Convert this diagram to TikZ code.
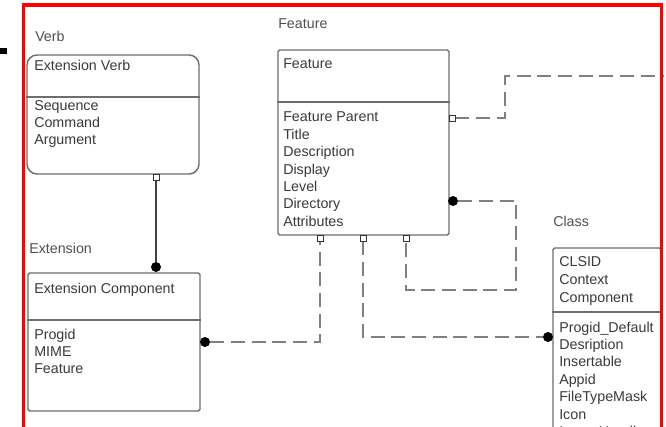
\documentclass[tikz,border=0pt]{standalone}
\usepackage{fontspec}
\setmainfont{Liberation Sans}
\usetikzlibrary{fit}
\definecolor{txt}{HTML}{3A3A3A}
\definecolor{lbl}{HTML}{505050}
\definecolor{boxc}{HTML}{6E6E6E}
\definecolor{dashcol}{HTML}{808080}
\begin{document}
\begin{tikzpicture}[x=0.75pt,y=-0.75pt,
  box/.style={draw=boxc, line width=1.1pt, inner sep=0pt, rounded corners=1.2pt},
  divider/.style={draw=boxc, line width=1.1pt},
  txtn/.style={anchor=base west, inner sep=0pt, text=txt, font=\fontsize{10.7}{13}\selectfont},
  lbln/.style={txtn, text=lbl},
  osq/.style={rectangle, draw=black!80, fill=white, line width=0.7pt, minimum size=4.5pt, inner sep=0pt},
  dot/.style={circle, fill=black, minimum size=7.5pt, inner sep=0pt},
  dashc/.style={draw=dashcol, line width=1.5pt, dash pattern=on 10.5pt off 5pt},
  solidc/.style={draw=black!75, line width=0.8pt}]
\clip (0,0) rectangle (666,427);
\fill[white] (0,0) rectangle (666,427);

% stray mark
\node[rectangle, fill=black, minimum width=5pt, minimum height=4.5pt, inner sep=0pt] (mark) at (3.5,51) {};

% ---------- Verb ----------
\node[lbln] (lverb) at (35,42) {Verb};
\node[box, rounded corners=7.5pt, fit={(27,55) (199,174)}] (verb) {};
\draw[divider] (verb.west |- 0,97) -- (verb.east |- 0,97);
\node[txtn] (verbt) at (34,71) {Extension Verb};
\foreach \t [count=\i] in {Sequence,Command,Argument}
  \node[txtn] (verba\i) at (34,{111+(\i-1)*17}) {\t};

% ---------- Extension ----------
\node[lbln] (lext) at (29,253) {Extension};
\node[box, fit={(28,273) (200,411)}] (ext) {};
\draw[divider] (ext.west |- 0,320) -- (ext.east |- 0,320);
\node[txtn] (extt) at (34,293) {Extension Component};
\foreach \t [count=\i] in {Progid,MIME,Feature}
  \node[txtn] (exta\i) at (34,{339+(\i-1)*17}) {\t};

% ---------- Feature ----------
\node[lbln] (lfeat) at (278,29) {Feature};
\node[box, fit={(278,50) (449,235)}] (feat) {};
\draw[divider] (feat.west |- 0,102) -- (feat.east |- 0,102);
\node[txtn] (featt) at (283,69) {Feature};
\foreach \t [count=\i] in {Feature Parent,Title,Description,Display,Level,Directory,Attributes}
  \node[txtn] (feata\i) at (283,{122+(\i-1)*17.4}) {\t};

% ---------- Class ----------
\node[lbln] (lcls) at (553,227) {Class};
\node[box, fit={(553,248) (661,470)}] (cls) {};
\draw[divider] (cls.west |- 0,312) -- (cls.east |- 0,312);
\foreach \t [count=\i] in {CLSID,Context,Component}
  \node[txtn] (clsk\i) at (559,{267+(\i-1)*17.5}) {\t};
\foreach \t [count=\i] in {Progid\_Default,Desription,Insertable,Appid,FileTypeMask,Icon,InprocHandler}
  \node[txtn] (clsa\i) at (559,{332+(\i-1)*17.4}) {\t};

% ---------- connectors ----------
% Verb -> Extension
\node[osq] (s1) at (156,177) {};
\node[dot] (d1) at (156,267) {};
\draw[solidc] (s1) -- (d1);

% Extension -> Feature
\node[dot] (d2) at (205,342) {};
\node[osq] (s2) at (320,238) {};
\draw[dashc] (d2) -| (s2);

% Feature Parent -> off page
\node[osq] (s3) at (452,118) {};
\coordinate (e3) at (664,76);
\draw[dashc] (s3) -- (505,118) |- (e3);

% Feature self relation
\node[dot] (d4) at (453,201) {};
\node[osq] (s4) at (406,238) {};
\draw[dashc] (d4) -- (516,201) -- (516,290) -| (s4);

% Feature -> Class
\node[osq] (s5) at (363,238) {};
\node[dot] (d5) at (548,337) {};
\draw[dashc] (s5) |- (d5);

% redraw squares on top
\node[osq] at (s1) {};
\node[osq] at (s2) {};
\node[osq] at (s3) {};
\node[osq] at (s4) {};
\node[osq] at (s5) {};

% red frame
\draw[red, line width=2.4pt] (23.5,440) -- (23.5,5) -- (661.2,5) -- (661.2,440);
\end{tikzpicture}
\end{document}
